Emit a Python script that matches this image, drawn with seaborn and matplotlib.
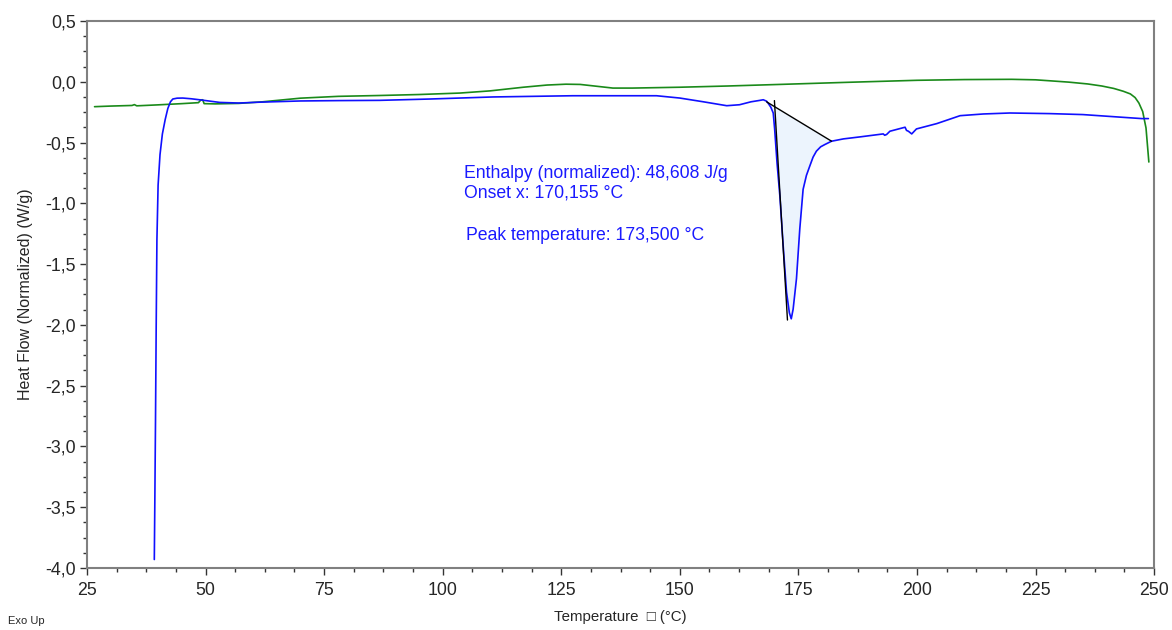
import numpy as np
import pandas as pd
import matplotlib
matplotlib.use("Agg")
import matplotlib.pyplot as plt
from matplotlib.ticker import MultipleLocator, AutoMinorLocator, FuncFormatter
import seaborn as sns

# --- Data ---
# blue trace (heating with melting peak)
blue_temp = [39.2, 39.3, 39.45, 39.6, 39.75, 40.0, 40.4, 40.9, 41.5, 42.05, 42.6, 43.1,
             44.0, 45.2, 47.0, 48.7, 53.0, 57.0, 61.4, 70.0, 78.0, 86.7, 97.3, 110.6,
             127.4, 145.1, 150.0, 155.0, 159.9, 162.6, 165.0, 166.9, 167.6, 168.3,
             168.6, 169.2, 169.7, 170.0, 170.5, 171.1, 171.8, 172.5, 173.1, 173.5,
             173.9, 174.6, 175.3, 176.0, 176.7, 177.4, 178.1, 178.8, 179.7, 180.6,
             182.0, 184.5, 188.1, 192.9, 193.2, 193.6, 194.3, 197.5, 197.8, 198.2,
             198.9, 199.9, 204.2, 209.1, 214.0, 219.6, 228.0, 235.0, 242.1, 247.4, 248.8]
blue_flow = [-3.93, -3.5, -2.8, -2.0, -1.3, -0.85, -0.6, -0.43, -0.31, -0.22, -0.165, -0.142,
             -0.135, -0.134, -0.14, -0.148, -0.17, -0.175, -0.168, -0.158, -0.155, -0.153,
             -0.142, -0.125, -0.115, -0.115, -0.134, -0.165, -0.197, -0.189, -0.165,
             -0.153, -0.148, -0.16, -0.175, -0.21, -0.257, -0.39, -0.667, -0.94, -1.35,
             -1.73, -1.90, -1.95, -1.87, -1.62, -1.21, -0.885, -0.77, -0.694, -0.62,
             -0.571, -0.535, -0.516, -0.489, -0.47, -0.453, -0.429, -0.44, -0.434,
             -0.407, -0.374, -0.40, -0.407, -0.429, -0.388, -0.344, -0.279, -0.265,
             -0.257, -0.262, -0.27, -0.289, -0.303, -0.303]

# green trace
green_temp = [26.6, 30.0, 34.5, 35.0, 35.5, 40.0, 45.0, 48.5, 49.0, 49.4, 49.7, 52.0,
              57.0, 62.0, 70.0, 78.0, 86.7, 95.0, 103.6, 110.0, 117.0, 122.0, 126.0,
              129.0, 132.0, 135.9, 140.0, 150.0, 160.0, 171.0, 185.0, 200.0, 210.0,
              220.0, 225.0, 228.0, 232.0, 236.0, 239.0, 241.5, 243.5, 245.0, 246.0,
              246.8, 247.6, 248.3, 248.9]
green_flow = [-0.205, -0.2, -0.195, -0.188, -0.198, -0.19, -0.18, -0.172, -0.15, -0.148,
              -0.18, -0.182, -0.178, -0.165, -0.135, -0.12, -0.113, -0.105, -0.093,
              -0.075, -0.045, -0.027, -0.02, -0.022, -0.035, -0.052, -0.052, -0.045,
              -0.035, -0.022, -0.005, 0.012, 0.018, 0.02, 0.016, 0.008, -0.003, -0.018,
              -0.035, -0.055, -0.078, -0.1, -0.13, -0.175, -0.245, -0.38, -0.66]

# peak evaluation
baseline_temp = [168.3, 182.0]
baseline_flow = [-0.165, -0.489]
onset_temp = [169.95, 172.7]
onset_flow = [-0.155, -1.96]

enthalpy_text = "Enthalpy (normalized): 48,608 J/g"
onset_text = "Onset x: 170,155 °C"
peak_text = "Peak temperature: 173,500 °C"

blue_df = pd.DataFrame({"Temperature": blue_temp, "HeatFlow": blue_flow})
green_df = pd.DataFrame({"Temperature": green_temp, "HeatFlow": green_flow})

sns.set_style("white")
plt.rcParams["font.family"] = ["Liberation Sans", "DejaVu Sans"]

fig = plt.figure(figsize=(11.72, 6.3), dpi=100)
ax = fig.add_axes([0.0742, 0.0984, 0.9105, 0.8683])

# shaded peak area between curve and baseline
in_peak = (blue_df["Temperature"] >= baseline_temp[0]) & (blue_df["Temperature"] <= baseline_temp[1])
peak = blue_df[in_peak]
base = np.interp(peak["Temperature"], baseline_temp, baseline_flow)
ax.fill_between(peak["Temperature"], peak["HeatFlow"], base, color="#ecf4fd", lw=0, zorder=1)

sns.lineplot(data=green_df, x="Temperature", y="HeatFlow", color="#1a8a1a", lw=1.2,
             sort=False, estimator=None, ax=ax, zorder=3)
sns.lineplot(data=blue_df, x="Temperature", y="HeatFlow", color="#1010ff", lw=1.2,
             sort=False, estimator=None, ax=ax, zorder=4)
ax.plot(baseline_temp, baseline_flow, color="black", lw=1, zorder=5)
ax.plot(onset_temp, onset_flow, color="black", lw=1, zorder=5)

txt_kw = dict(color="#1a1aff", fontsize=12.7, va="center", ha="left")
ax.text(104.6, -0.754, enthalpy_text, **txt_kw)
ax.text(104.6, -0.918, onset_text, **txt_kw)
ax.text(105.0, -1.262, peak_text, **txt_kw)

ax.set_xlim(25, 250)
ax.set_ylim(-4.0, 0.5)
ax.xaxis.set_major_locator(MultipleLocator(25))
ax.xaxis.set_minor_locator(AutoMinorLocator(4))
ax.yaxis.set_major_locator(MultipleLocator(0.5))
ax.yaxis.set_minor_locator(AutoMinorLocator(4))
ax.yaxis.set_major_formatter(FuncFormatter(lambda v, p: f"{v:.1f}".replace(".", ",").replace("-0,0", "0,0")))
ax.xaxis.set_major_formatter(FuncFormatter(lambda v, p: f"{v:.0f}"))

ax.tick_params(axis="both", which="major", direction="out", length=5, width=1,
               color="#333333", labelsize=12.8, left=True, bottom=True)
ax.tick_params(axis="both", which="minor", direction="out", length=3, width=1,
               color="#333333", left=True, bottom=True)
ax.tick_params(axis="y", pad=3)
ax.tick_params(axis="x", pad=5)

for side in ["left", "right", "top", "bottom"]:
    ax.spines[side].set_visible(True)
    ax.spines[side].set_color("#808080")
    ax.spines[side].set_linewidth(1.5)

ax.set_xlabel("Temperature  \u25a1 (°C)", fontsize=10.8, labelpad=8)
ax.set_ylabel("Heat Flow (Normalized) (W/g)", fontsize=11.5, labelpad=9)
fig.text(0.007, 0.014, "Exo Up", fontsize=8, ha="left", va="center")

fig.savefig("out.png", dpi=100)
